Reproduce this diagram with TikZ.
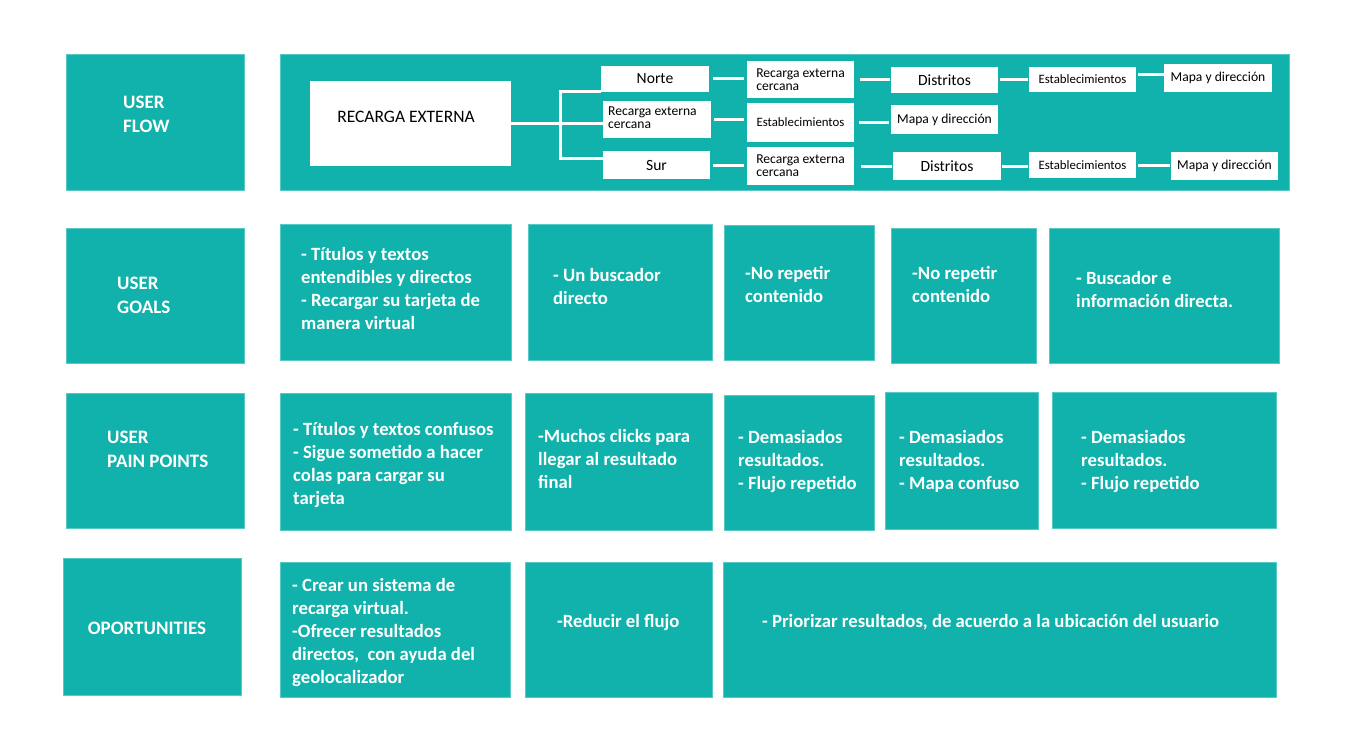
\documentclass[tikz,border=0pt]{standalone}
\usepackage{fontspec}
\setmainfont{Carlito}
\usetikzlibrary{fit}
\definecolor{teal1}{HTML}{10B2AB}
\newcommand\myfbig{\fontsize{17.5}{20}\selectfont}
\newcommand\myfmid{\fontsize{15.6}{18}\selectfont}
\newcommand\myfsm{\fontsize{13.6}{13}\selectfont}
\newcommand\myfxs{\fontsize{12.8}{13}\selectfont}
\begin{document}
\begin{tikzpicture}[x=1pt,y=-1pt,
  tbox/.style={fill=teal1, draw=teal1!70!white, line width=0.6pt, inner sep=0pt, outer sep=0pt},
  wbox/.style={fill=white, inner sep=0pt, outer sep=0pt, text=black, align=left},
  conn/.style={draw=white, line width=3pt},
  btxt/.style={text=white, font=\bfseries\fontsize{18.7}{23}\selectfont, align=left, inner sep=0pt, anchor=base west},
  ltxt/.style={text=white, font=\bfseries\fontsize{19}{24}\selectfont, align=left, inner sep=0pt, anchor=base west},
  ftxt/.style={text=black, inner sep=0pt, align=left}]
\useasboundingbox (0,0) rectangle (1354,749);
\fill[white] (0,0) rectangle (1354,749);

% ---------- Row 1: user flow ----------
\node[tbox, fit={(66,54)(244,190)}] (L1) {};
\node[ltxt] (L1t) at (123,132) {USER\\FLOW};
\node[tbox, fit={(280,54)(1289,190)}] (F) {};

\node[wbox, minimum width=201pt, minimum height=85pt] (R) at (410.5,123.5) {};
\node[ftxt, font=\myfbig] (Rt) at (406,117) {RECARGA EXTERNA};

\node[wbox, minimum width=108pt, minimum height=26pt, font=\myfmid] (N) at (655,79) {Norte};
\node[wbox, minimum width=108pt, minimum height=37pt] (M1) at (657,119.5) {};
\node[ftxt, font=\myfsm, anchor=west] (M1t) at (608,118) {Recarga externa\\cercana};
\node[wbox, minimum width=107pt, minimum height=28pt, font=\myfmid] (S) at (656.5,165) {Sur};

\node[wbox, minimum width=107pt, minimum height=37pt, font=\myfsm] (C2a) at (800.5,79.5) {Recarga externa\\cercana};
\node[wbox, minimum width=107pt, minimum height=39pt, font=\myfxs] (C2b) at (800.5,122.5) {Establecimientos};
\node[wbox, minimum width=107pt, minimum height=38pt, font=\myfsm] (C2c) at (800.5,166) {Recarga externa\\cercana};

\node[wbox, minimum width=107pt, minimum height=26pt, font=\myfmid] (D1) at (944.5,80) {Distritos};
\node[wbox, minimum width=107pt, minimum height=29pt, font=\myfsm] (Mm) at (944.5,119.5) {Mapa y dirección};
\node[wbox, minimum width=108pt, minimum height=28pt, font=\myfmid] (D2) at (947,166) {Distritos};

\node[wbox, minimum width=107pt, minimum height=25pt, font=\myfxs] (E1) at (1082.5,79.5) {Establecimientos};
\node[wbox, minimum width=107pt, minimum height=26pt, font=\myfxs] (E2) at (1082.5,165) {Establecimientos};

\node[wbox, minimum width=108pt, minimum height=28pt, font=\myfsm] (Ma1) at (1218,78) {Mapa y dirección};
\node[wbox, minimum width=107pt, minimum height=28pt, font=\myfsm] (Ma2) at (1224.5,166) {Mapa y dirección};

\coordinate (jt) at (560,92);
\coordinate (jb) at (560,158);
\draw[conn] (R.east) -- (R.east -| M1.west);
\draw[conn] (N.south west) -- (jt) -- (jb) -- (jb -| S.west);
\draw[conn, shorten <=4pt, shorten >=3pt] (N.east) -- (N.east -| C2a.west);
\draw[conn, shorten <=3pt, shorten >=3pt] (M1.east) -- (M1.east -| C2b.west);
\draw[conn, shorten <=3pt, shorten >=3pt] (S.east) -- (S.east -| C2c.west);
\draw[conn, shorten <=6pt, shorten >=1pt] (C2a.east) -- (C2a.east -| D1.west);
\draw[conn, shorten <=5pt, shorten >=2pt] (C2b.east) -- (C2b.east -| Mm.west);
\draw[conn, shorten <=7pt, shorten >=1pt] (C2c.east) -- (C2c.east -| D2.west);
\draw[conn, shorten <=2pt, shorten >=1pt] (D1.east) -- (D1.east -| E1.west);
\draw[conn, shorten <=1pt, shorten >=1pt] (D2.east) -- (D2.east -| E2.west);
\draw[conn, shorten <=2pt] ([yshift=5pt]E1.east) -- ([yshift=5pt]E1.east -| Ma1.west);
\draw[conn, shorten <=2pt, shorten >=1pt] (E2.east) -- (E2.east -| Ma2.west);

% ---------- Row 2: user goals ----------
\node[tbox, fit={(66,228)(244,363)}] (L2) {};
\node[ltxt] (L2t) at (117,313) {USER\\GOALS};
\node[tbox, fit={(280,224)(511,360)}] (G1) {};
\node[tbox, fit={(528,224)(712,360)}] (G2) {};
\node[tbox, fit={(724,225)(874,360)}] (G3) {};
\node[tbox, fit={(891,228)(1036,363)}] (G4) {};
\node[tbox, fit={(1049,228)(1279,363)}] (G5) {};
\node[btxt] (G1t) at (301,329) {- Títulos y textos\\entendibles y directos\\- Recargar su tarjeta de\\manera virtual};
\node[btxt] (G2t) at (553,304) {- Un buscador\\directo};
\node[btxt] (G3t) at (745,302) {-No repetir\\contenido};
\node[btxt] (G4t) at (912,302) {-No repetir\\contenido};
\node[btxt] (G5t) at (1076,307) {- Buscador e\\información directa.};

% ---------- Row 3: pain points ----------
\node[tbox, fit={(66,393)(244,528)}] (L3) {};
\node[ltxt] (L3t) at (107,467) {USER\\PAIN POINTS};
\node[tbox, fit={(280,393)(511,530)}] (P1) {};
\node[tbox, fit={(525,393)(712,530)}] (P2) {};
\node[tbox, fit={(724,395)(874,530)}] (P3) {};
\node[tbox, fit={(885,392)(1038,529)}] (P4) {};
\node[tbox, fit={(1052,392)(1276,528)}] (P5) {};
\node[btxt] (P1t) at (293,504) {- Títulos y textos confusos\\- Sigue sometido a hacer\\colas para cargar su\\tarjeta};
\node[btxt] (P2t) at (538,488) {-Muchos clicks para\\llegar al resultado\\final};
\node[btxt] (P3t) at (738,489) {- Demasiados\\resultados.\\- Flujo repetido};
\node[btxt] (P4t) at (899,489) {- Demasiados\\resultados.\\- Mapa confuso};
\node[btxt] (P5t) at (1081,489) {- Demasiados\\resultados.\\- Flujo repetido};

% ---------- Row 4: oportunities ----------
\node[tbox, fit={(63,558)(241,695)}] (L4) {};
\node[ltxt, anchor=base] (L4t) at (147,634) {OPORTUNITIES};
\node[tbox, fit={(280,562)(510,697)}] (O1) {};
\node[tbox, fit={(525,562)(712,697)}] (O2) {};
\node[tbox, fit={(723,562)(1276,697)}] (O3) {};
\node[btxt] (O1t) at (292,683) {- Crear un sistema de\\recarga virtual.\\-Ofrecer resultados\\directos, \ con ayuda del\\geolocalizador};
\node[btxt] (O2t) at (557,627) {-Reducir el flujo};
\node[btxt] (O3t) at (762,627) {- Priorizar resultados, de acuerdo a la ubicación del usuario};
\end{tikzpicture}
\end{document}
